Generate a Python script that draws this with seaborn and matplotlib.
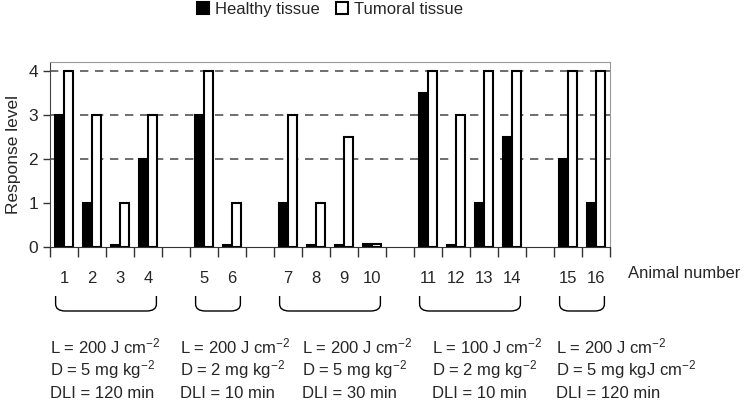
import numpy as np
import pandas as pd
import matplotlib
matplotlib.use("Agg")
import matplotlib.pyplot as plt
import matplotlib.transforms as mtransforms
from matplotlib.path import Path
from matplotlib.patches import PathPatch, Patch
import seaborn as sns

# --- data ---
animals = [str(i) for i in range(1, 17)]
healthy = [3, 1, 0.05, 2, 3, 0.05, 1, 0.05, 0.05, 0.07, 3.5, 0.05, 1, 2.5, 2, 1]
tumoral = [4, 3, 1, 3, 4, 1, 3, 1, 2.5, 0.07, 4, 3, 4, 4, 4, 4]
group_sizes = [4, 2, 4, 4, 2]
L_labels = ["200", "200", "200", "100", "200"]
D_labels = [r"5 mg kg$^{-2}$", r"2 mg kg$^{-2}$", r"5 mg kg$^{-2}$",
            r"2 mg kg$^{-2}$", r"5 mg kgJ cm$^{-2}$"]
DLI_labels = ["120", "10", "30", "10", "120"]
grid_levels = [2, 3, 4]
tissues = ["Healthy tissue", "Tumoral tissue"]

# slot order: animals with an empty slot between groups
slots, k = [], 0
for g, n in enumerate(group_sizes):
    slots += animals[k:k + n]
    k += n
    if g < len(group_sizes) - 1:
        slots.append(f"_gap{g}")

df = pd.DataFrame({
    "animal": animals * 2,
    "tissue": [tissues[0]] * 16 + [tissues[1]] * 16,
    "level": healthy + tumoral,
})

sns.set_style("white")
plt.rcParams["font.family"] = ["Liberation Sans", "DejaVu Sans"]
plt.rcParams["mathtext.fontset"] = "custom"
plt.rcParams["mathtext.rm"] = "Liberation Sans"
plt.rcParams["mathtext.it"] = "Liberation Sans:italic"
plt.rcParams["mathtext.bf"] = "Liberation Sans:bold"

W, H = 748, 405
fig = plt.figure(figsize=(W / 100, H / 100), dpi=100)
ax = fig.add_axes([50 / W, 1 - 247 / H, 560 / W, 185 / H])

sns.barplot(data=df, x="animal", y="level", hue="tissue", order=slots,
            hue_order=tissues, palette={tissues[0]: "black", tissues[1]: "white"},
            width=0.64, gap=0, saturation=1, edgecolor="black", linewidth=1.5,
            errorbar=None, legend=False, ax=ax)

for y in grid_levels:
    ax.axhline(y, color="#555555", lw=1.2, ls=(0, (5, 4)), zorder=0.5)

ax.set_xlim(-0.5, len(slots) - 0.5)
ax.set_ylim(0, 4.2)
ax.set_yticks(range(5))
ax.set_xlabel("")
ax.set_ylabel("Response level", fontsize=12.5, labelpad=5)

# slot boundary ticks, animal numbers as minor labels
animal_pos = [i for i, s in enumerate(slots) if not s.startswith("_")]
ax.set_xticks(np.arange(-0.5, len(slots)), labels=[])
ax.set_xticks(animal_pos, labels=animals, minor=True)
ax.tick_params(axis="x", which="major", direction="out", length=7, width=1, color="#333333", bottom=True)
ax.tick_params(axis="x", which="minor", length=0, pad=17, labelsize=12)
ax.tick_params(axis="y", direction="out", length=5, width=1, color="#333333", left=True, labelsize=12.5)

for side in ["top", "right"]:
    ax.spines[side].set_color("#999999")
ax.spines["left"].set_color("#444444")
ax.spines["bottom"].set_color("#333333")

fig.text(628 / W, 1 - 274 / H, "Animal number", fontsize=12, va="center")

# braces under each group
trans = mtransforms.blended_transform_factory(ax.transData, fig.transFigure)
y_top, y_bot = 1 - 296 / H, 1 - 311 / H
pos = 0
for n in group_sizes:
    group = animal_pos[pos:pos + n]
    pos += n
    x0, x1 = group[0] - 0.3, group[-1] + 0.3
    r, h = 0.35, 7 / H
    verts = [(x0, y_top), (x0, y_bot + h), (x0, y_bot), (x0 + r, y_bot),
             (x1 - r, y_bot), (x1, y_bot), (x1, y_bot + h), (x1, y_top)]
    codes = [Path.MOVETO, Path.LINETO, Path.CURVE3, Path.CURVE3,
             Path.LINETO, Path.CURVE3, Path.CURVE3, Path.LINETO]
    ax.add_patch(PathPatch(Path(verts, codes), transform=trans, fill=False,
                           lw=1.0, color="black", clip_on=False))

# treatment conditions below each brace
col_x = [50, 180, 302, 432, 556]
for cx, L, D, T in zip(col_x, L_labels, D_labels, DLI_labels):
    fig.text(cx / W, 1 - 346 / H, f"L = {L} J cm$^{{-2}}$", fontsize=12, va="center")
    fig.text(cx / W, 1 - 370 / H, f"D = {D}", fontsize=12, va="center")
    fig.text(cx / W, 1 - 394 / H, f"DLI = {T} min", fontsize=12, va="center")

handles = [Patch(fc="black", ec="black", lw=1.5), Patch(fc="white", ec="black", lw=1.5)]
fig.legend(handles, tissues, loc="upper center", bbox_to_anchor=(330 / W, 1.032), ncol=2,
           frameon=False, fontsize=12, handlelength=0.7, handleheight=0.7,
           handletextpad=0.35, columnspacing=1.0)

fig.savefig("out.png", dpi=100)
